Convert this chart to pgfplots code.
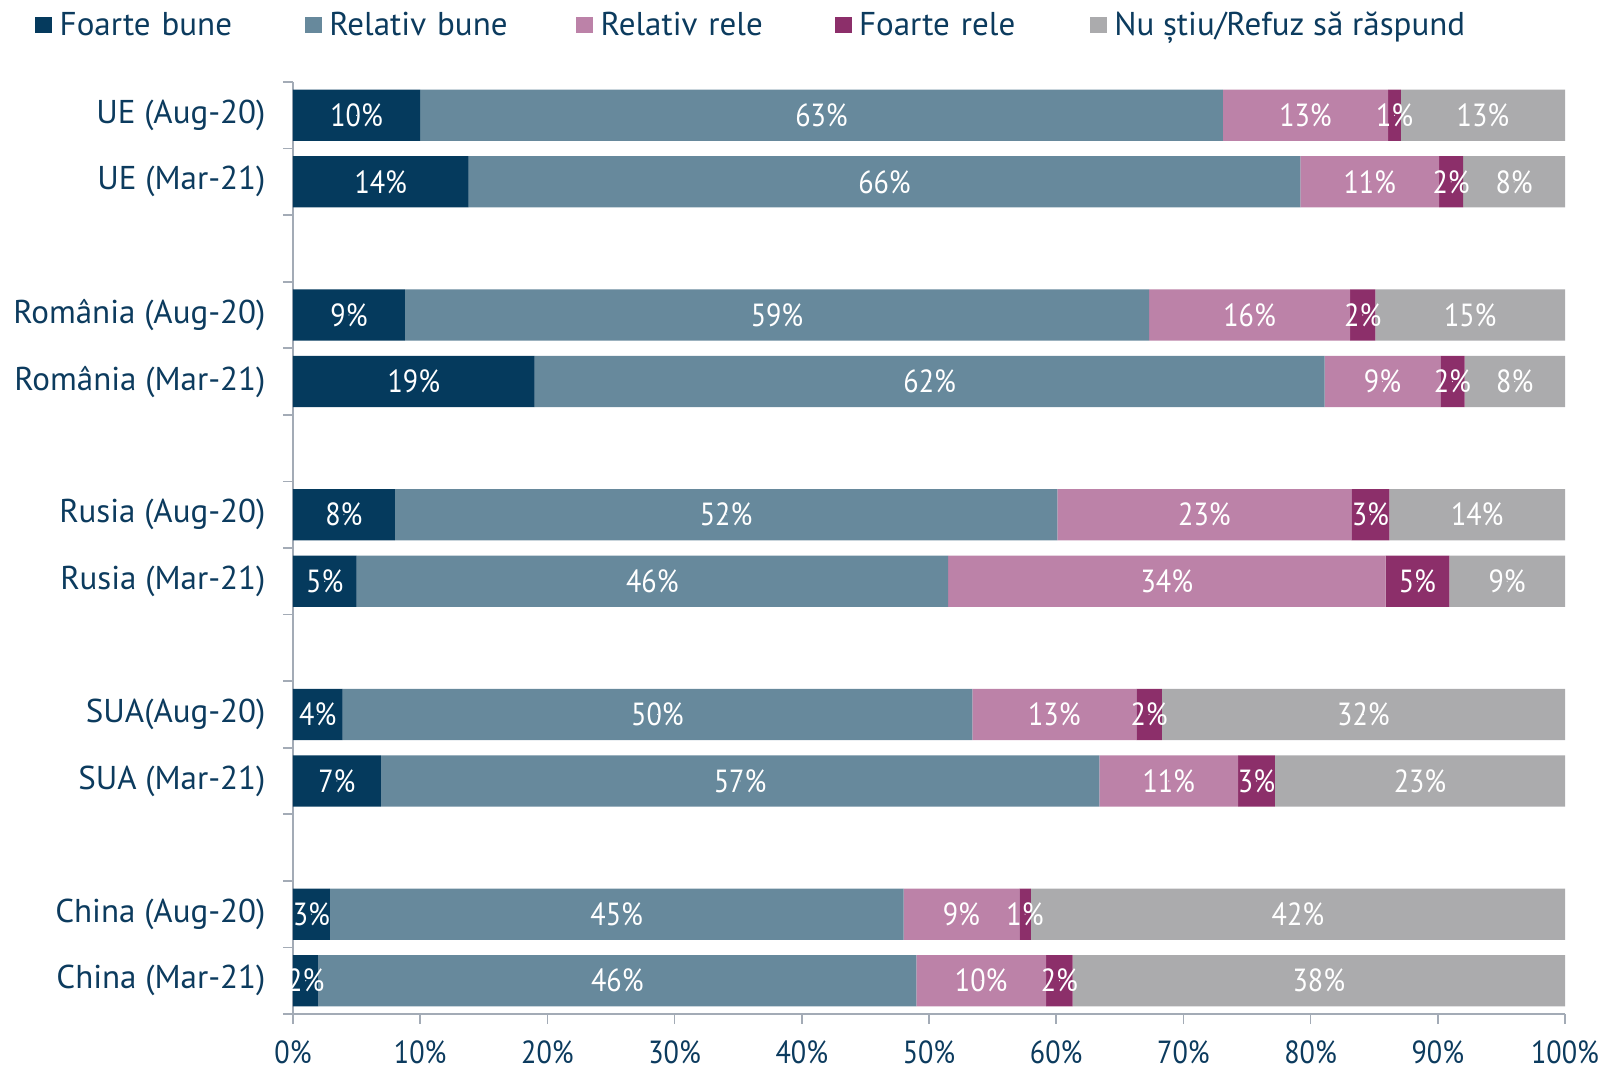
\documentclass[border=0pt]{standalone}
\usepackage{pgfplots}
\pgfplotsset{compat=1.18}
\usepackage{pgfplotstable}
\usepackage{fontspec}
\setmainfont{PT Sans}
\newfontfamily\numfont{PT Sans}[FakeStretch=0.88]
\definecolor{cFB}{HTML}{053A5D}
\definecolor{cRB}{HTML}{67899C}
\definecolor{cRR}{HTML}{BC82A8}
\definecolor{cFR}{HTML}{8C2F6A}
\definecolor{cNS}{HTML}{ABABAD}
\definecolor{navy}{HTML}{0C3B5E}
\definecolor{axisgray}{HTML}{A3ABB6}
\newcommand{\fs}{\fontsize{16.5}{19}\selectfont}
\newcommand{\fn}{\fontsize{16}{19}\selectfont\numfont}
\pgfplotstableread{
y FB RB RR FR NS
0 10.0 63.1 13.0 1.0 12.9
1 13.8 65.4 10.9 1.9 8.0
3 8.8 58.5 15.8 2.0 14.9
4 19.0 62.1 9.1 1.9 7.9
6 8.0 52.1 23.1 3.0 13.8
7 5.0 46.5 34.4 5.0 9.1
9 3.9 49.5 12.9 2.0 31.7
10 6.9 56.5 10.9 2.9 22.8
12 2.9 45.1 9.1 0.9 42.0
13 2.0 47.0 10.2 2.1 38.7
}\datatable
\pgfplotstableread{
x y lab
5.0 0 10
41.55 0 63
79.6 0 13
86.6 0 1
93.55 0 13
6.9 1 14
46.5 1 66
84.65 1 11
91.05 1 2
96.0 1 8
4.4 3 9
38.05 3 59
75.2 3 16
84.1 3 2
92.55 3 15
9.5 4 19
50.05 4 62
85.65 4 9
91.15 4 2
96.05 4 8
4.0 6 8
34.05 6 52
71.65 6 23
84.7 6 3
93.1 6 14
2.5 7 5
28.25 7 46
68.7 7 34
88.4 7 5
95.45 7 9
1.95 9 4
28.65 9 50
59.85 9 13
67.3 9 2
84.15 9 32
3.45 10 7
35.15 10 57
68.85 10 11
75.75 10 3
88.6 10 23
1.45 12 3
25.45 12 45
52.55 12 9
57.55 12 1
79.0 12 42
1.0 13 2
25.5 13 46
54.1 13 10
60.25 13 2
80.65 13 38
}\labtable
\begin{document}
\begin{tikzpicture}
\pgfplotsset{
  common/.style={
    width=636pt, height=466pt, scale only axis,
    xmin=0, xmax=100, ymin=-0.5, ymax=13.5, y dir=reverse,
  }
}
\begin{axis}[common,
  xbar stacked, bar width=0.77,
  axis lines*=left,
  axis line style={axisgray, line width=0.8pt},
  tick align=outside, major tick length=5pt,
  tick style={axisgray, line width=0.8pt},
  xtick={0,10,...,100},
  xticklabel={\pgfmathprintnumber{\tick}\%},
  /pgf/number format/assume math mode=true,
  tick label style={font=\fs, text=navy},
  xticklabel style={font=\fn, inner sep=0pt, yshift=-8pt},
  ytick={-0.5,0.5,...,13.5}, yticklabels={},
  extra y ticks={0,1,3,4,6,7,9,10,12,13},
  extra y tick labels={UE (Aug-20),UE (Mar-21),România (Aug-20),România (Mar-21),Rusia (Aug-20),Rusia (Mar-21),SUA(Aug-20),SUA (Mar-21),China (Aug-20),China (Mar-21)},
  extra y tick style={major tick length=0pt, yticklabel style={xshift=-10.25pt}},
  legend columns=-1,
  legend style={at={(-0.2028,1.0612)}, anchor=west, draw=none, fill=none,
    inner sep=0pt, font=\fs, text=navy,
    nodes={inner sep=0pt},
    /tikz/every odd column/.append style={column sep=3.75pt},
    /tikz/column 2/.style={nodes={text width=122.7pt}},
    /tikz/column 4/.style={nodes={text width=123.5pt}},
    /tikz/column 6/.style={nodes={text width=117pt}},
    /tikz/column 8/.style={nodes={text width=115.5pt}},
  },
  legend image code/.code={\fill[#1] (0pt,-4.2pt) rectangle (8.4pt,4.2pt);},
]
\addplot[fill=cFB, draw=none] table[x=FB, y=y] {\datatable};
\addplot[fill=cRB, draw=none] table[x=RB, y=y] {\datatable};
\addplot[fill=cRR, draw=none] table[x=RR, y=y] {\datatable};
\addplot[fill=cFR, draw=none] table[x=FR, y=y] {\datatable};
\addplot[fill=cNS, draw=none] table[x=NS, y=y] {\datatable};
\legend{Foarte bune, Relativ bune, Relativ rele, Foarte rele, Nu știu/Refuz să răspund}
\end{axis}
\begin{axis}[common, hide axis]
\addplot[white, only marks, mark=*, mark size=0.01pt,
  point meta=explicit symbolic,
  nodes near coords={\pgfplotspointmeta\%},
  nodes near coords style={anchor=center, text=white, font=\fn, inner sep=0pt}]
  table[x=x, y=y, meta=lab] {\labtable};
\end{axis}
\pgfresetboundingbox
\path[use as bounding box] (current axis.south west) ++(-146.5pt,-27.5pt) rectangle ([xshift=18.5pt,yshift=41pt]current axis.north east);
\end{tikzpicture}
\end{document}
